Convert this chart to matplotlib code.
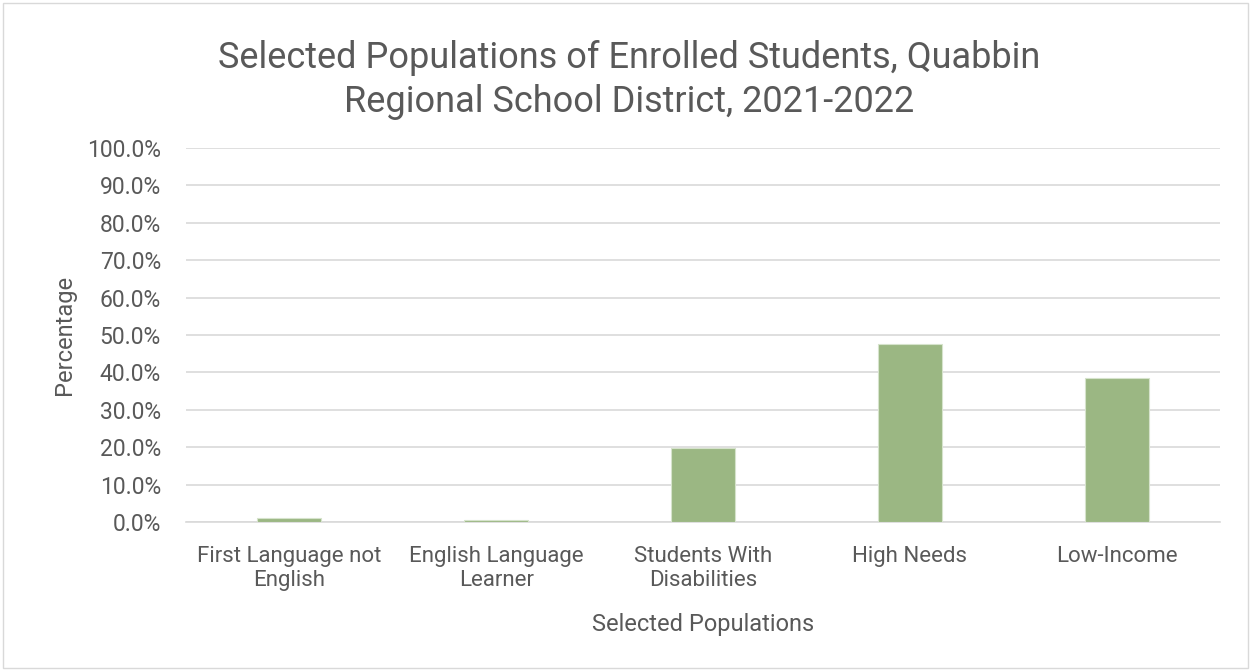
import matplotlib.pyplot as plt
from matplotlib.patches import Rectangle
from matplotlib.ticker import FuncFormatter

categories = ["First Language not\nEnglish", "English Language\nLearner",
              "Students With\nDisabilities", "High Needs", "Low-Income"]
values = [1.1, 0.5, 19.9, 47.5, 38.6]

plt.rcParams['font.family'] = ['Roboto', 'DejaVu Sans']
grey = '#595959'

fig = plt.figure(figsize=(12.51, 6.71), dpi=100)
ax = fig.add_axes([186 / 1251, 1 - 522 / 671, (1220 - 186) / 1251, (522 - 148) / 671])

ax.bar(range(len(categories)), values, width=0.31, color='#9bb783',
       edgecolor='#d6e3cc', linewidth=0.8, zorder=3)

ax.set_xlim(-0.5, len(categories) - 0.5)
ax.set_ylim(0, 100)
ax.set_yticks(range(0, 101, 10))
ax.yaxis.set_major_formatter(FuncFormatter(lambda v, p: f"{v:.1f}%"))
ax.set_xticks(range(len(categories)))
ax.set_xticklabels(categories)
ax.grid(axis='y', color='#d9d9d9', linewidth=1.2, zorder=0)
ax.tick_params(axis='y', length=0, labelsize=16.5, colors=grey, pad=18)
ax.tick_params(axis='x', length=0, labelsize=16, colors=grey, pad=17)
for s in ['top', 'right', 'left']:
    ax.spines[s].set_visible(False)
ax.spines['bottom'].set_color('#d9d9d9')
ax.spines['bottom'].set_linewidth(1.2)

ax.set_xlabel("Selected Populations", fontsize=17, color=grey, labelpad=16)
ax.set_ylabel("Percentage", fontsize=17, color=grey, labelpad=8)

fig.text(0.503, 1 - 80 / 671, "Selected Populations of Enrolled Students, Quabbin\nRegional School District, 2021-2022",
         ha='center', va='center', fontsize=26, color=grey, linespacing=1.25)

fig.patches.append(Rectangle((3 / 1251, 3 / 671), 1 - 6 / 1251, 1 - 6 / 671,
                             transform=fig.transFigure, fill=False,
                             edgecolor='#d9d9d9', linewidth=1))

fig.savefig("out.png", dpi=100)
